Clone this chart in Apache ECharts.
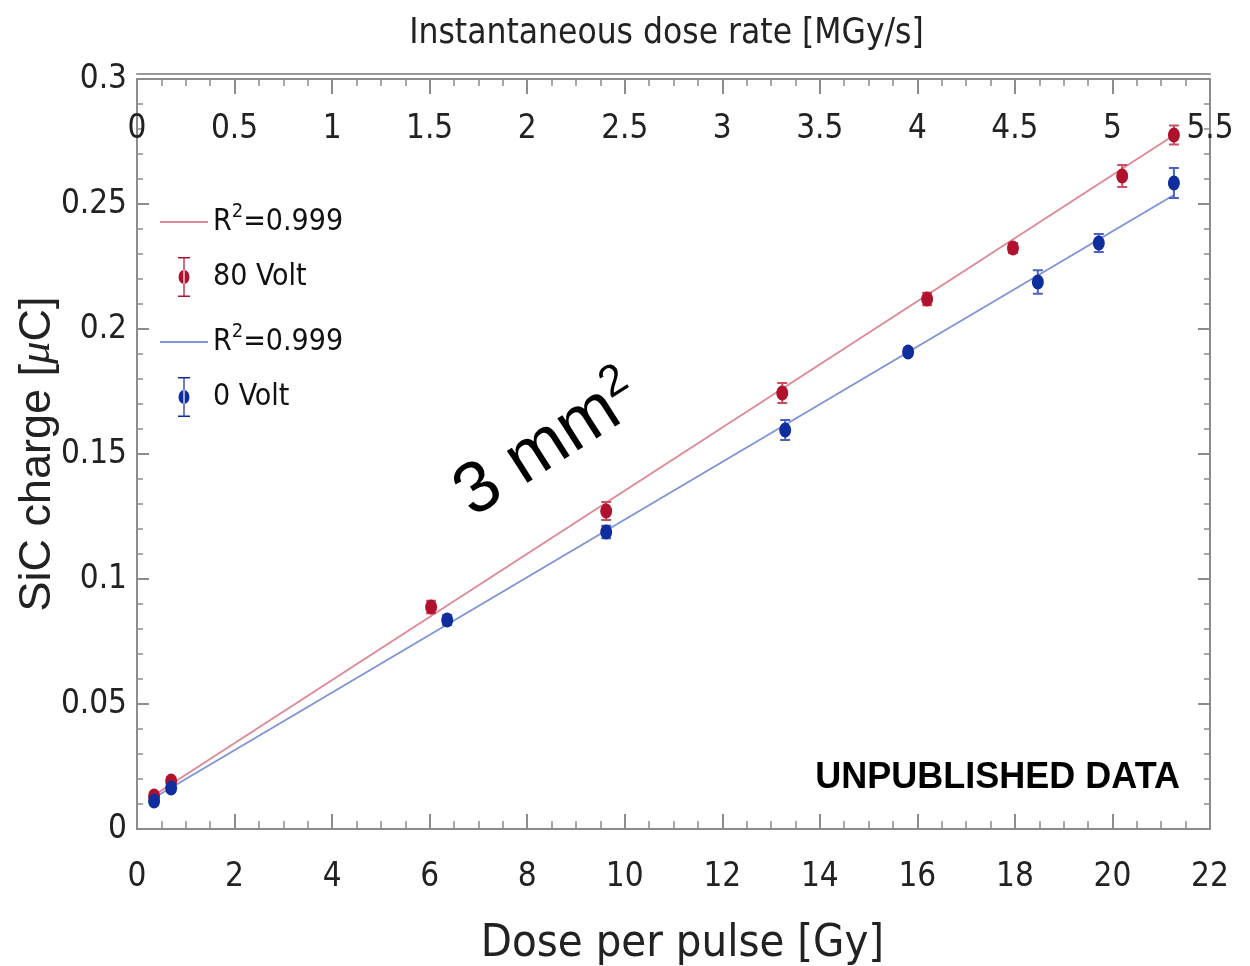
<!DOCTYPE html>
<html>
<head>
<meta charset="utf-8">
<script src="https://cdn.jsdelivr.net/npm/echarts@6/dist/echarts.min.js"></script>
<style>
html, body { margin: 0; padding: 0; background: #fff; }
#main { width: 1250px; height: 966px; }
</style>
</head>
<body>
<div id="main"></div>
<script>
// dose per pulse [Gy] and SiC charge [uC]
let dose80 = [0.35, 0.70, 6.03, 9.62, 13.23, 16.20, 17.96, 20.20, 21.26];
let charge80 = [0.0132, 0.0192, 0.0888, 0.1272, 0.1744, 0.2120, 0.2324, 0.2612, 0.2776];
let err80 = [0.0015, 0.0015, 0.0025, 0.0036, 0.0040, 0.0025, 0.0020, 0.0044, 0.0038];

let dose0 = [0.35, 0.70, 6.36, 9.62, 13.29, 15.81, 18.47, 19.72, 21.26];
let charge0 = [0.0112, 0.0164, 0.0836, 0.1188, 0.1596, 0.1908, 0.2188, 0.2344, 0.2584];
let err0 = [0.0015, 0.0015, 0.0020, 0.0025, 0.0040, 0.0015, 0.0047, 0.0036, 0.0060];

// linear fits, start and end points
let fitDose = [0.35, 21.26];
let fit80 = [0.0135, 0.2775];
let fit0 = [0.0125, 0.2536];

const NARROW = "'DejaVu Sans Condensed', 'Liberation Sans', sans-serif";
const PLAIN = "'Liberation Sans', Arial, sans-serif";
const AXIS_GREY = '#8c8c8c';

function errorBars(color) {
    return function (params, api) {
        let lo = api.coord([api.value(0), api.value(1) - api.value(2)]);
        let hi = api.coord([api.value(0), api.value(1) + api.value(2)]);
        let w = 5;
        let style = { stroke: color, lineWidth: 2 };
        return {
            type: 'group',
            children: [
                { type: 'line', shape: { x1: lo[0], y1: lo[1], x2: hi[0], y2: hi[1] }, style: style },
                { type: 'line', shape: { x1: hi[0] - w, y1: hi[1], x2: hi[0] + w, y2: hi[1] }, style: style },
                { type: 'line', shape: { x1: lo[0] - w, y1: lo[1], x2: lo[0] + w, y2: lo[1] }, style: style }
            ]
        };
    };
}

function pairs(xs, ys) {
    return xs.map((x, i) => [x, ys[i]]);
}

function triples(xs, ys, es) {
    return xs.map((x, i) => [x, ys[i], es[i]]);
}

// axis used only to draw the short in-between ticks
function minorAxis(position, max, step, len) {
    return {
        type: 'value', position: position, min: 0, max: max, interval: step,
        axisLine: { show: false, onZero: false },
        axisTick: { show: true, inside: true, length: len, lineStyle: { color: AXIS_GREY, width: 1.5 } },
        axisLabel: { show: false },
        splitLine: { show: false }
    };
}

const barIcon = 'path://M0,0H12V1.5H0Z M5.4,0H6.6V40H5.4Z M0,38.5H12V40H0Z M0.5,20A5.5,7,0,1,0,11.5,20A5.5,7,0,1,0,0.5,20Z';
const lineIcon = 'path://M0,0H48V2H0Z';

let legendText = {
    fontFamily: NARROW,
    fontSize: 30,
    color: '#111',
    rich: {
        t: { fontFamily: NARROW, fontSize: 30, lineHeight: 40, color: '#111' },
        s: { fontFamily: NARROW, fontSize: 20, verticalAlign: 'top', color: '#111' }
    }
};

function legendLabel(name) {
    if (name.indexOf('fit') === 0) {
        return '{t|R}{s|2}{t|=0.999}';
    }
    return '{t|' + name + '}';
}

let myChart = echarts.init(document.getElementById('main'));

let option = {
    backgroundColor: '#fff',
    animation: false,
    grid: { left: 137, right: 40, top: 79, bottom: 137, outerBoundsMode: 'none', containLabel: false },
    legend: [
        {
            left: 160, top: 202, orient: 'vertical', padding: 0,
            itemWidth: 48, itemHeight: 40, itemGap: 20,
            selectedMode: false,
            data: [
                { name: 'fit80', icon: lineIcon },
                { name: '80 Volt', icon: barIcon }
            ],
            formatter: legendLabel,
            textStyle: legendText
        },
        {
            left: 160, top: 322, orient: 'vertical', padding: 0,
            itemWidth: 48, itemHeight: 40, itemGap: 20,
            selectedMode: false,
            data: [
                { name: 'fit0', icon: lineIcon },
                { name: '0 Volt', icon: barIcon }
            ],
            formatter: legendLabel,
            textStyle: legendText
        }
    ],
    xAxis: [
        {
            type: 'value', position: 'bottom', min: 0, max: 22, interval: 2,
            name: 'Dose per pulse [Gy]', nameLocation: 'middle', nameGap: 93,
            nameTextStyle: { fontFamily: NARROW, fontSize: 45, color: '#222', padding: [0, 0, 0, 18] },
            axisLine: { onZero: false, lineStyle: { color: AXIS_GREY, width: 2 } },
            axisTick: { inside: true, length: 15, lineStyle: { color: AXIS_GREY, width: 2 } },
            axisLabel: { margin: 32, fontFamily: NARROW, fontSize: 33, color: '#222' },
            splitLine: { show: false }
        },
        {
            type: 'value', position: 'top', min: 0, max: 5.5, interval: 0.5,
            name: 'Instantaneous dose rate [MGy/s]', nameLocation: 'middle', nameGap: 28,
            nameTextStyle: { fontFamily: NARROW, fontSize: 35, color: '#222', padding: [0, 14, 0, 0] },
            axisLine: { onZero: false, lineStyle: { color: AXIS_GREY, width: 2 } },
            axisTick: { inside: true, length: 15, lineStyle: { color: AXIS_GREY, width: 2 } },
            axisLabel: { inside: true, margin: 34, fontFamily: NARROW, fontSize: 33, color: '#222' },
            splitLine: { show: false }
        },
        {
            // second rule of the double line along the top
            type: 'value', position: 'top', offset: 5, min: 0, max: 5.5,
            axisLine: { show: true, onZero: false, lineStyle: { color: '#9a9a9a', width: 2 } },
            axisTick: { show: false },
            axisLabel: { show: false },
            splitLine: { show: false }
        },
        minorAxis('bottom', 22, 0.5, 8),
        minorAxis('top', 5.5, 0.125, 7)
    ],
    yAxis: [
        {
            type: 'value', position: 'left', min: 0, max: 0.3, interval: 0.05,
            name: 'SiC charge [{m|μ}C]', nameLocation: 'middle', nameGap: 77, nameMoveOverlap: false,
            nameTextStyle: {
                fontFamily: PLAIN, fontSize: 45, color: '#222',
                rich: { m: { fontFamily: "'Liberation Serif', serif", fontStyle: 'italic', fontSize: 45, color: '#222' } }
            },
            axisLine: { show: true, onZero: false, lineStyle: { color: AXIS_GREY, width: 2 } },
            axisTick: { inside: true, length: 12, lineStyle: { color: AXIS_GREY, width: 2 } },
            axisLabel: { margin: 10, fontFamily: NARROW, fontSize: 33, color: '#222' },
            splitLine: { show: false }
        },
        {
            type: 'value', position: 'right', min: 0, max: 0.3, interval: 0.05,
            axisLine: { show: true, onZero: false, lineStyle: { color: AXIS_GREY, width: 2 } },
            axisTick: { inside: true, length: 12, lineStyle: { color: AXIS_GREY, width: 2 } },
            axisLabel: { show: false },
            splitLine: { show: false }
        },
        minorAxis('left', 0.3, 0.01, 6),
        minorAxis('right', 0.3, 0.01, 6)
    ],
    series: [
        {
            name: 'fit80', type: 'line', data: pairs(fitDose, fit80),
            showSymbol: false, symbol: 'none', z: 2,
            itemStyle: { color: '#e08a98' },
            lineStyle: { color: '#e08a98', width: 2 }
        },
        {
            name: 'fit0', type: 'line', data: pairs(fitDose, fit0),
            showSymbol: false, symbol: 'none', z: 2,
            itemStyle: { color: '#8096d8' },
            lineStyle: { color: '#8096d8', width: 2 }
        },
        {
            name: 'err80', type: 'custom', renderItem: errorBars('#c8505f'),
            data: triples(dose80, charge80, err80), encode: { x: 0, y: 1 }, z: 3
        },
        {
            name: 'err0', type: 'custom', renderItem: errorBars('#4a62c4'),
            data: triples(dose0, charge0, err0), encode: { x: 0, y: 1 }, z: 3
        },
        {
            name: '80 Volt', type: 'scatter', data: pairs(dose80, charge80),
            symbol: 'circle', symbolSize: [12, 15], z: 4,
            itemStyle: { color: '#b0122e', opacity: 1 }
        },
        {
            name: '0 Volt', type: 'scatter', data: pairs(dose0, charge0),
            symbol: 'circle', symbolSize: [12, 15], z: 4,
            itemStyle: { color: '#0f2d9c', opacity: 1 }
        }
    ],
    graphic: [
        {
            type: 'text', x: 548, y: 446, rotation: 0.57,
            style: {
                text: '{a|3 mm}{b|2}',
                align: 'center', verticalAlign: 'middle',
                rich: {
                    a: { fontFamily: PLAIN, fontSize: 72, lineHeight: 80, fill: '#000' },
                    b: { fontFamily: PLAIN, fontSize: 44, verticalAlign: 'top', fill: '#000' }
                }
            }
        },
        {
            type: 'text', right: 70, top: 760,
            style: {
                text: 'UNPUBLISHED DATA',
                fontFamily: PLAIN, fontWeight: 'bold', fontSize: 36, fill: '#000'
            }
        }
    ]
};

myChart.setOption(option);
</script>
</body>
</html>
